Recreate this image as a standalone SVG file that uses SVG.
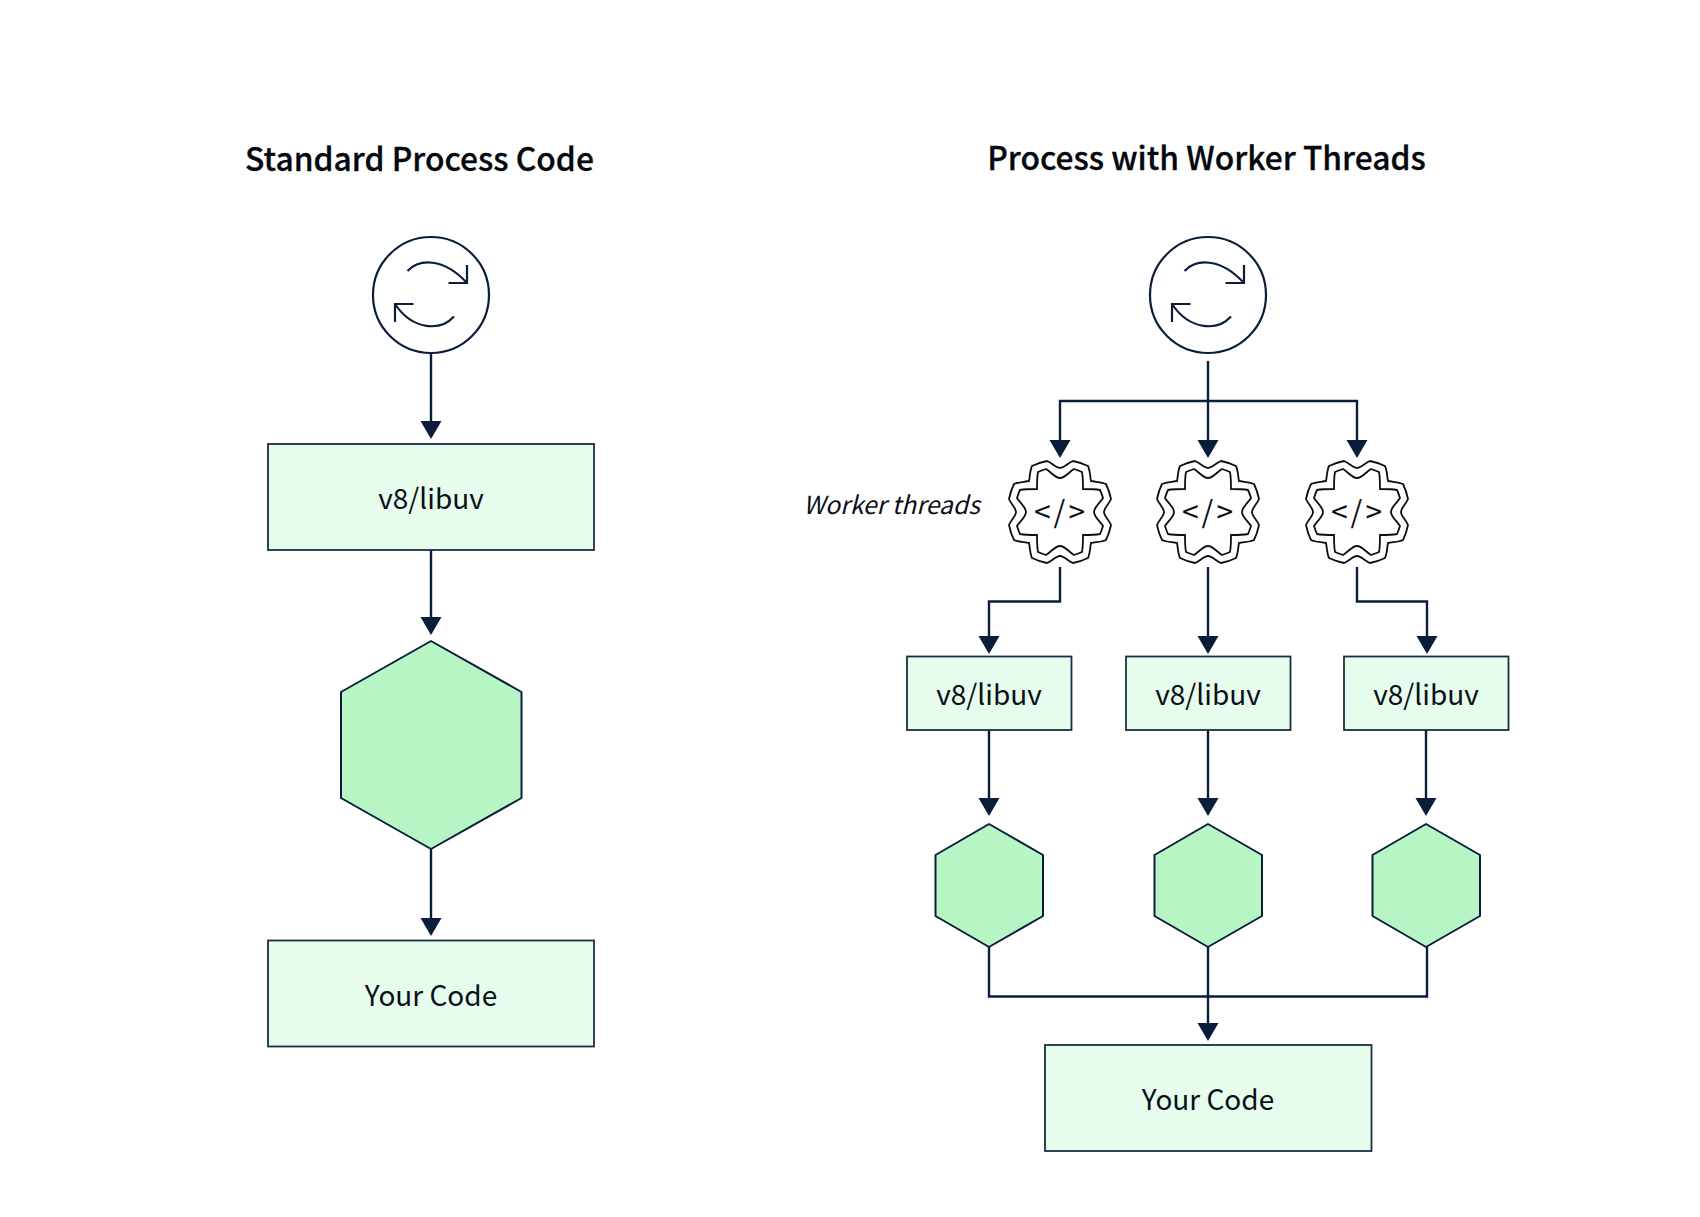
<svg xmlns="http://www.w3.org/2000/svg" width="1700" height="1217" viewBox="0 0 1700 1217">
<style>
text{font-family:"Noto Sans CJK SC","Noto Sans",sans-serif;fill:#0b0f17;text-anchor:middle}
.title{font-size:31.800px;font-weight:500;fill:#05080e;stroke:#05080e;stroke-width:.3}
.label{font-size:28px}
.italic{font-size:24.800px;font-style:italic}
.code{font-size:30px;letter-spacing:3px}
.box{fill:#e6fcec;stroke:#1a2e46;stroke-width:1.8}
.hex{fill:#b7f5c4;stroke:#0a1e3c;stroke-width:2;stroke-linejoin:round}
.ln{fill:none;stroke:#0a1e3c;stroke-width:2.2}
.wire{fill:none;stroke:#0a1e3c;stroke-width:2.4;marker-end:url(#arrow)}
.plain{fill:none;stroke:#0a1e3c;stroke-width:2.4}
.gear{fill:#fff;stroke:#0b0f17;stroke-width:1.8}
</style>
<defs>
<marker id="arrow" markerUnits="userSpaceOnUse" markerWidth="22" markerHeight="22" refX="0" refY="11" orient="auto"><path d="M0 0.500L18 11L0 21.500Z" fill="#0a1e3c"/></marker>
<g id="sync">
<circle r="58" fill="#fff" class="ln"/>
<path class="ln" d="M-23.500-24C-12-36 12-38 36-12M36-30V-12H17.500M-36 9C-18 36 10 36 23 21.500M-36 27V9H-17.500"/>
</g>
<g id="cog">
<path class="gear" d="M0-44C4-44 8-49 13-51C18-50 24-48 28-46C30-42 30-36 31-31C36-30 42-30 46-28C48-24 50-18 51-13C49-8 44-4 44 0C44 4 49 8 51 13C50 18 48 24 46 28C42 30 36 30 31 31C30 36 30 42 28 46C24 48 18 50 13 51C8 49 4 44 0 44C-4 44-8 49-13 51C-18 50-24 48-28 46C-30 42-30 36-31 31C-36 30-42 30-46 28C-48 24-50 18-51 13C-49 8-44 4-44 0C-44-4-49-8-51-13C-50-18-48-24-46-28C-42-30-36-30-31-31C-30-36-30-42-28-46C-24-48-18-50-13-51C-8-49-4-44 0-44Z"/>
<path class="gear" d="M0-34C5-34 9-40 14-43C17-42 20-41 22-40C23-35 23-28 23-23C28-23 35-23 40-22C41-20 42-17 43-14C40-9 34-5 34 0C34 5 40 9 43 14C42 17 41 20 40 22C35 23 28 23 23 23C23 28 23 35 22 40C20 41 17 42 14 43C9 40 5 34 0 34C-5 34-9 40-14 43C-17 42-20 41-22 40C-23 35-23 28-23 23C-28 23-35 23-40 22C-41 20-42 17-43 14C-40 9-34 5-34 0C-34-5-40-9-43-14C-42-17-41-20-40-22C-35-23-28-23-23-23C-23-28-23-35-22-40C-20-41-17-42-14-43C-9-40-5-34 0-34Z"/>
</g>
</defs>
<rect width="1700" height="1217" fill="#fff"/>
<text class="title" x="419.500" y="171">Standard Process Code</text>
<text class="title" x="1206.500" y="170">Process with Worker Threads</text>
<text class="italic" x="891.500" y="514">Worker threads</text>
<g id="connectors">
<path class="wire" d="M431 353V421"/>
<path class="wire" d="M431 550V617"/>
<path class="wire" d="M431 849V918"/>
<path class="wire" d="M1208 361V440"/>
<path class="wire" d="M1208 401H1060V440"/>
<path class="wire" d="M1208 401H1357V440"/>
<path class="wire" d="M1060 567V601.500H989V636"/>
<path class="wire" d="M1208 567V636"/>
<path class="wire" d="M1357 567V601.500H1427V636"/>
<path class="wire" d="M989 730V798"/>
<path class="wire" d="M1208 730V798"/>
<path class="wire" d="M1426 730V798"/>
<path class="plain" d="M989 947V996.500H1427V947"/>
<path class="wire" d="M1208 947V1023"/>
</g>
<g id="left-loop"><use href="#sync" x="431" y="295"/></g>
<g id="left-v8"><rect class="box" x="268" y="444" width="326" height="106"/><text class="label" x="431" y="509">v8/libuv</text></g>
<g id="left-hex"><polygon class="hex" points="431,641 521.500,692 521.500,798 431,849 341,798 341,692"/></g>
<g id="left-code"><rect class="box" x="268" y="940.500" width="326" height="106"/><text class="label" x="431" y="1005.500">Your Code</text></g>
<g id="right-loop"><use href="#sync" x="1208" y="295"/></g>
<g id="worker-1"><use href="#cog" x="1060" y="512"/><text class="code" x="1061" y="523">&lt;/&gt;</text></g>
<g id="worker-2"><use href="#cog" x="1208" y="512"/><text class="code" x="1209" y="523">&lt;/&gt;</text></g>
<g id="worker-3"><use href="#cog" x="1357" y="512"/><text class="code" x="1358" y="523">&lt;/&gt;</text></g>
<g id="v8-1"><rect class="box" x="907" y="656.500" width="164.500" height="73.500"/><text class="label" x="989" y="705">v8/libuv</text></g>
<g id="v8-2"><rect class="box" x="1126" y="656.500" width="164.500" height="73.500"/><text class="label" x="1208" y="705">v8/libuv</text></g>
<g id="v8-3"><rect class="box" x="1344" y="656.500" width="164.500" height="73.500"/><text class="label" x="1426" y="705">v8/libuv</text></g>
<g id="hex-1"><polygon class="hex" points="989,824 1043,855 1043,916 989,947 935.500,916 935.500,855"/></g>
<g id="hex-2"><polygon class="hex" points="1208,824 1262,855 1262,916 1208,947 1154.500,916 1154.500,855"/></g>
<g id="hex-3"><polygon class="hex" points="1426,824 1480,855 1480,916 1426,947 1372.500,916 1372.500,855"/></g>
<g id="right-code"><rect class="box" x="1045" y="1045" width="326.500" height="106"/><text class="label" x="1208" y="1109.500">Your Code</text></g>
</svg>
